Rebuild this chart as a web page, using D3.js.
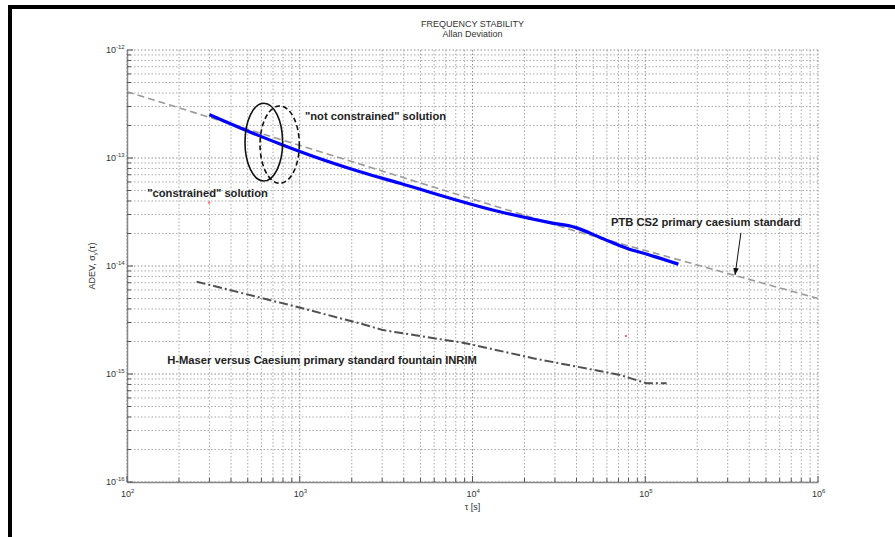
<!DOCTYPE html>
<html>
<head>
<meta charset="utf-8">
<script src="https://cdn.jsdelivr.net/npm/d3@7"></script>
<style>
  body { margin: 0; background: #fff; }
  svg { display: block; }
  .tick-label { font-family: "Liberation Sans", Arial, sans-serif; fill: #333; }
  .note { font-family: "Liberation Sans", Arial, sans-serif; font-weight: bold; font-size: 11.2px; fill: #222; }
</style>
</head>
<body>
<svg id="chart" width="895" height="537"></svg>
<script>
// Allan deviation of the PTB CS2 comparison (measured, blue)
const cs2Tau  = [300, 482, 796, 1000, 2234, 3800, 14400, 28100, 39200, 54700, 78100, 106700, 155400];
const cs2Adev = [2.52e-13, 1.82e-13, 1.32e-13, 1.15e-13, 7.46e-14, 5.83e-14, 3.18e-14, 2.52e-14, 2.28e-14, 1.84e-14, 1.46e-14, 1.26e-14, 1.04e-14];

// PTB CS2 primary caesium standard reference line (grey dashed)
const ptbTau  = [100, 39200, 1e6];
const ptbAdev = [4.11e-13, 2.11e-14, 5.0e-15];

// H-Maser versus Caesium fountain INRIM (dash-dot)
const maserTau  = [253, 982, 2234, 3034, 9250, 22400, 71400, 101900, 133000];
const maserAdev = [7.16e-15, 4.15e-15, 2.94e-15, 2.55e-15, 1.92e-15, 1.40e-15, 9.8e-16, 8.2e-16, 8.2e-16];

// Axis decades (exponents) used for the tick labels
const xDecades = [2, 3, 4, 5, 6];
const yDecades = [-16, -15, -14, -13, -12];

// Annotation ellipses: bounding boxes in data units [tauMin, tauMax, adevLow, adevHigh]
const ellipseSolid  = [482, 796, 6.12e-14, 3.21e-13];
const ellipseDashed = [589, 994, 5.83e-14, 3.03e-13];

// Annotation labels: [tau, adev, text]
const notes = [
  [1072, 2.25e-13, "\"not constrained\" solution"],
  [131, 4.35e-14, "\"constrained\" solution"],
  [63400, 2.35e-14, "PTB CS2 primary caesium standard"],
  [171, 1.24e-15, "H-Maser versus Caesium primary standard fountain INRIM"]
];
// Arrow from the PTB label to its line: [tauFrom, adevFrom, tauTo, adevTo]
const ptbArrow = [3.58e5, 2.03e-14, 3.31e5, 8.26e-15];
// Stray red specks
const specks = [[299, 3.86e-14], [77400, 2.25e-15]];

const svg = d3.select("#chart");
const W = 895, H = 537;
const plot = { left: 127, right: 818, top: 50, bottom: 482 };

// Page frame
svg.append("rect").attr("x", 8).attr("y", 5).attr("width", W - 8).attr("height", 4).attr("fill", "#000");
svg.append("rect").attr("x", 8).attr("y", 5).attr("width", 4).attr("height", H - 5).attr("fill", "#000");

const x = d3.scaleLog().domain([1e2, 1e6]).range([plot.left, plot.right]);
const y = d3.scaleLog().domain([1e-16, 1e-12]).range([plot.bottom, plot.top]);

const isMajor = v => Math.abs(Math.log10(v) - Math.round(Math.log10(v))) < 1e-9;

// Grid
const grid = svg.append("g");
x.ticks().forEach(t => {
  grid.append("line")
    .attr("x1", x(t)).attr("x2", x(t))
    .attr("y1", plot.top).attr("y2", plot.bottom)
    .attr("stroke", isMajor(t) ? "#8c8c8c" : "#aaaaaa")
    .attr("stroke-width", 1)
    .attr("stroke-dasharray", "1.5,2");
});
y.ticks().forEach(t => {
  grid.append("line")
    .attr("x1", plot.left).attr("x2", plot.right)
    .attr("y1", y(t)).attr("y2", y(t))
    .attr("stroke", isMajor(t) ? "#8c8c8c" : "#aaaaaa")
    .attr("stroke-width", 1)
    .attr("stroke-dasharray", "1.5,2");
});

// Axes (left and bottom only)
const xAxis = d3.axisBottom(x).tickSizeInner(0).tickSizeOuter(0).tickFormat("");
const yAxis = d3.axisLeft(y).tickSizeInner(0).tickSizeOuter(0).tickFormat("");
svg.append("g").attr("transform", `translate(0,${plot.bottom})`).call(xAxis)
  .select(".domain").attr("stroke", "#888").attr("stroke-width", 1.5);
svg.append("g").attr("transform", `translate(${plot.left},0)`).call(yAxis)
  .select(".domain").attr("stroke", "#888").attr("stroke-width", 1.5);

// Inward tick marks
x.ticks().forEach(t => {
  svg.append("line").attr("x1", x(t)).attr("x2", x(t))
    .attr("y1", plot.bottom).attr("y2", plot.bottom - (isMajor(t) ? 6 : 4))
    .attr("stroke", "#555").attr("stroke-width", 1);
});
y.ticks().forEach(t => {
  svg.append("line").attr("x1", plot.left).attr("x2", plot.left + (isMajor(t) ? 6 : 4))
    .attr("y1", y(t)).attr("y2", y(t))
    .attr("stroke", "#555").attr("stroke-width", 1);
});

// Tick labels 10^n
xDecades.forEach(e => {
  const t = svg.append("text").attr("class", "tick-label")
    .attr("x", x(Math.pow(10, e)) - 6).attr("y", plot.bottom + 15)
    .attr("font-size", 9);
  t.append("tspan").text("10");
  t.append("tspan").attr("dy", -4).attr("font-size", 6).text(e);
});
yDecades.forEach(e => {
  const t = svg.append("text").attr("class", "tick-label")
    .attr("x", plot.left - 21).attr("y", y(Math.pow(10, e)) + 3)
    .attr("font-size", 9);
  t.append("tspan").text("10");
  t.append("tspan").attr("dy", -4).attr("font-size", 6).text(e);
});

// Titles
svg.append("text").attr("class", "tick-label").attr("x", (plot.left + plot.right) / 2).attr("y", 27)
  .attr("text-anchor", "middle").attr("font-size", 9).attr("fill", "#222").text("FREQUENCY STABILITY");
svg.append("text").attr("class", "tick-label").attr("x", (plot.left + plot.right) / 2).attr("y", 37)
  .attr("text-anchor", "middle").attr("font-size", 9).attr("fill", "#222").text("Allan Deviation");

svg.append("text").attr("class", "tick-label").attr("x", (plot.left + plot.right) / 2).attr("y", 510)
  .attr("text-anchor", "middle").attr("font-size", 9).text("τ [s]");

const yl = svg.append("text").attr("class", "tick-label")
  .attr("transform", `translate(95,${(plot.top + plot.bottom) / 2}) rotate(-90)`)
  .attr("text-anchor", "middle").attr("font-size", 9);
yl.append("tspan").text("ADEV, σ");
yl.append("tspan").attr("dy", 2).attr("font-size", 6).text("y");
yl.append("tspan").attr("dy", -2).text("(τ)");

// Series
const line = d3.line().x(d => x(d[0])).y(d => y(d[1]));
const smooth = d3.line().x(d => x(d[0])).y(d => y(d[1])).curve(d3.curveMonotoneX);

svg.append("path")
  .datum(ptbTau.map((t, i) => [t, ptbAdev[i]]))
  .attr("d", line).attr("fill", "none")
  .attr("stroke", "#9a9a9a").attr("stroke-width", 1.6).attr("stroke-dasharray", "7,4");

svg.append("path")
  .datum(maserTau.map((t, i) => [t, maserAdev[i]]))
  .attr("d", line).attr("fill", "none")
  .attr("stroke", "#505050").attr("stroke-width", 2).attr("stroke-dasharray", "9,3,2,3");

svg.append("path")
  .datum(cs2Tau.map((t, i) => [t, cs2Adev[i]]))
  .attr("d", smooth).attr("fill", "none")
  .attr("stroke", "#0000ff").attr("stroke-width", 3.2).attr("stroke-linejoin", "round");

// Ellipses
function drawEllipse(b, dash) {
  const x0 = x(b[0]), x1 = x(b[1]), y0 = y(b[3]), y1 = y(b[2]);
  svg.append("ellipse")
    .attr("cx", (x0 + x1) / 2).attr("cy", (y0 + y1) / 2)
    .attr("rx", (x1 - x0) / 2).attr("ry", (y1 - y0) / 2)
    .attr("fill", "none").attr("stroke", "#111").attr("stroke-width", 1.6)
    .attr("stroke-dasharray", dash);
}
drawEllipse(ellipseSolid, null);
drawEllipse(ellipseDashed, "5,3");

// Labels
notes.forEach(n => {
  svg.append("text").attr("class", "note").attr("x", x(n[0])).attr("y", y(n[1])).text(n[2]);
});

// Arrow
svg.append("defs").append("marker")
  .attr("id", "head").attr("viewBox", "0 0 10 10").attr("refX", 10).attr("refY", 5)
  .attr("markerWidth", 7).attr("markerHeight", 7).attr("orient", "auto-start-reverse")
  .attr("markerUnits", "userSpaceOnUse")
  .append("path").attr("d", "M0,1 L10,5 L0,9 Z").attr("fill", "#111");
svg.append("line")
  .attr("x1", x(ptbArrow[0])).attr("y1", y(ptbArrow[1]))
  .attr("x2", x(ptbArrow[2])).attr("y2", y(ptbArrow[3]))
  .attr("stroke", "#111").attr("stroke-width", 1).attr("marker-end", "url(#head)");

// Specks
specks.forEach(s => {
  svg.append("rect").attr("x", x(s[0]) - 1).attr("y", y(s[1]) - 1)
    .attr("width", 2).attr("height", 2).attr("fill", "#f66");
});
</script>
</body>
</html>
